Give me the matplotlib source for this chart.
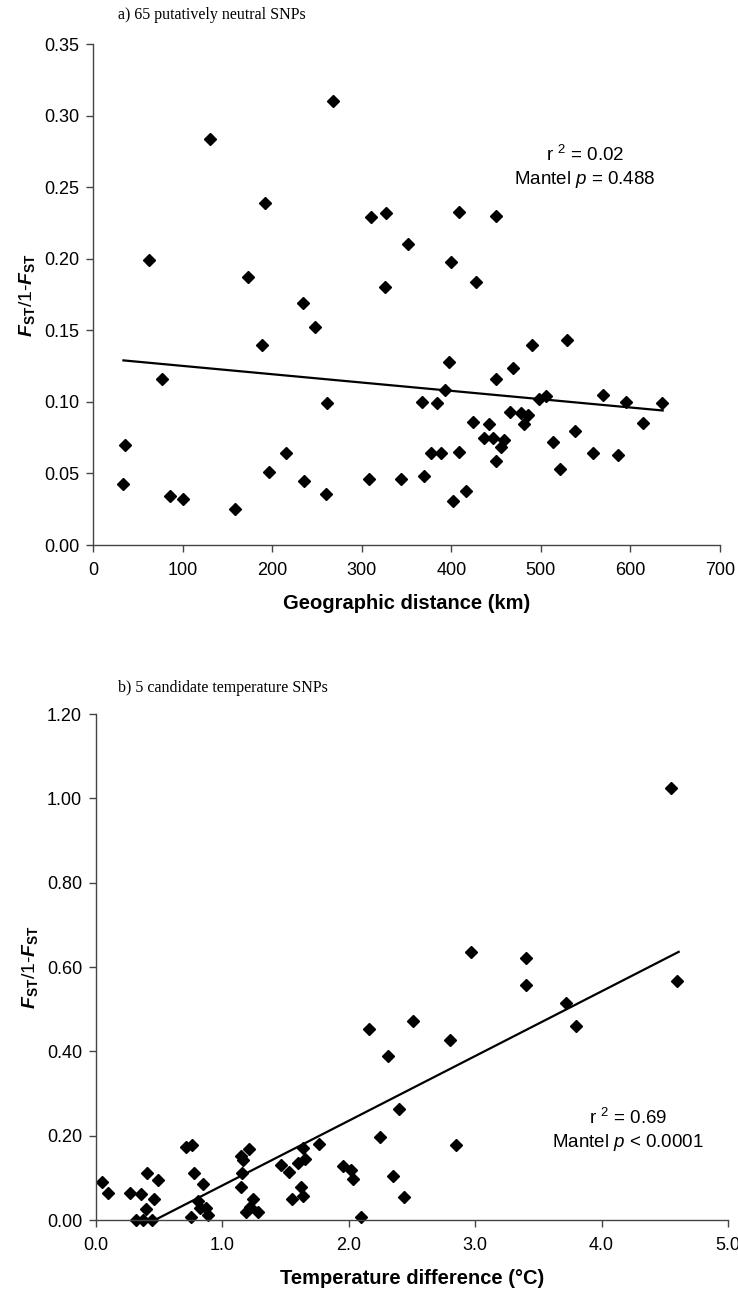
import matplotlib
matplotlib.use("Agg")
import matplotlib.pyplot as plt

plt.rcParams["font.family"] = ["Liberation Sans", "DejaVu Sans"]
plt.rcParams["mathtext.fontset"] = "custom"
plt.rcParams["mathtext.rm"] = "Liberation Sans"
plt.rcParams["mathtext.it"] = "Liberation Sans:italic"
plt.rcParams["mathtext.bf"] = "Liberation Sans:bold"
plt.rcParams["mathtext.bfit"] = "Liberation Sans:bold:italic"

# a) 65 putatively neutral SNPs: geographic distance (km) vs Fst/1-Fst
dist_km = [34, 36, 62, 77.5, 86, 100.6, 131, 158, 172.6, 188.7, 192, 197, 216,
           234, 236, 248.3, 260, 261, 268, 308, 310, 325.5, 327.4, 344, 351.6,
           367.6, 369, 377, 384, 389, 392.6, 398, 400, 402, 408.3, 408.5, 416,
           424.3, 427.3, 436.6, 442.2, 446.6, 449.7, 449.7, 449.7, 456, 459,
           466, 469, 477.3, 481, 485.8, 490.3, 498, 506, 513.8, 521, 528.7,
           538.4, 557.8, 569, 586.5, 595, 613.8, 635]
fst_neutral = [0.043, 0.070, 0.199, 0.116, 0.034, 0.032, 0.284, 0.025, 0.187,
               0.140, 0.239, 0.051, 0.064, 0.169, 0.045, 0.152, 0.036, 0.099,
               0.310, 0.046, 0.229, 0.180, 0.232, 0.046, 0.210, 0.100, 0.048,
               0.064, 0.099, 0.064, 0.108, 0.128, 0.198, 0.031, 0.233, 0.065,
               0.038, 0.086, 0.184, 0.075, 0.0845, 0.0745, 0.116, 0.230, 0.059,
               0.0687, 0.0733, 0.093, 0.124, 0.092, 0.0845, 0.091, 0.140, 0.102,
               0.104, 0.072, 0.053, 0.143, 0.080, 0.064, 0.105, 0.063, 0.0996,
               0.085, 0.099]
trend_a_x = [34, 636]
trend_a_y = [0.129, 0.094]

# b) 5 candidate temperature SNPs: temperature difference vs Fst/1-Fst
temp_diff = [0.045, 0.097, 0.268, 0.316, 0.36, 0.374, 0.395, 0.405, 0.44, 0.458,
             0.492, 0.71, 0.763, 0.75, 0.774, 0.808, 0.847, 0.82, 0.874, 0.887,
             1.15, 1.15, 1.163, 1.158, 1.21, 1.19, 1.216, 1.24, 1.28, 1.466,
             1.53, 1.553, 1.597, 1.637, 1.65, 1.62, 1.637, 1.763, 1.953, 2.018,
             2.03, 2.097, 2.158, 2.308, 2.25, 2.4, 2.347, 2.44, 2.51, 2.80,
             2.85, 2.965, 3.40, 3.40, 3.72, 3.795, 4.55, 4.60]
fst_temp = [0.091, 0.065, 0.065, 0.0, 0.062, 0.0, 0.025, 0.111, 0.0, 0.05,
            0.095, 0.174, 0.177, 0.006, 0.111, 0.044, 0.086, 0.028, 0.028, 0.013,
            0.079, 0.152, 0.143, 0.112, 0.168, 0.02, 0.032, 0.049, 0.018, 0.131,
            0.115, 0.05, 0.136, 0.170, 0.145, 0.079, 0.057, 0.181, 0.128, 0.119,
            0.097, 0.006, 0.454, 0.39, 0.198, 0.263, 0.105, 0.054, 0.471, 0.426,
            0.177, 0.636, 0.621, 0.558, 0.515, 0.461, 1.024, 0.567]
trend_b_x = [0.466, 4.61]
trend_b_y = [0.0, 0.636]

ylab = r"$\mathbfit{F}_{\mathbf{ST}}$/1-$\mathbfit{F}_{\mathbf{ST}}$"

fig = plt.figure(figsize=(7.38, 12.99), dpi=100)
ax1 = fig.add_axes([0.126, 0.5804, 0.8496, 0.3857])
ax2 = fig.add_axes([0.130, 0.0608, 0.8564, 0.3895])


def style(ax):
    for side in ["top", "right"]:
        ax.spines[side].set_visible(False)
    for side in ["left", "bottom"]:
        ax.spines[side].set_color("#444444")
        ax.spines[side].set_linewidth(1.0)
    ax.tick_params(direction="out", length=5, width=1.0, color="#444444",
                   labelsize=13)
    ax.tick_params(axis="x", pad=7)
    ax.tick_params(axis="y", pad=5)


# Panel a
ax1.plot(dist_km, fst_neutral, "D", color="black", ms=6.3, clip_on=False)
ax1.plot(trend_a_x, trend_a_y, color="black", lw=1.6)
ax1.set_xlim(0, 700)
ax1.set_ylim(0, 0.35)
ax1.set_xticks(range(0, 701, 100))
ax1.set_yticks([i * 0.05 for i in range(8)])
ax1.set_yticklabels([f"{i * 0.05:.2f}" for i in range(8)])
style(ax1)
ax1.set_xlabel("Geographic distance (km)", fontsize=14.5, fontweight="bold",
               labelpad=11)
ax1.set_ylabel(ylab, fontsize=14, labelpad=5)
ax1.text(549, 0.264, "r $^2$ = 0.02\nMantel $p$ = 0.488", ha="center",
         va="center", fontsize=13.5, linespacing=1.25)
fig.text(118 / 738, 1 - 15 / 1299, "a) 65 putatively neutral SNPs",
         family="Liberation Serif", fontsize=11.5, va="center")

# Panel b
ax2.plot(temp_diff, fst_temp, "D", color="black", ms=6.3, clip_on=False)
ax2.plot(trend_b_x, trend_b_y, color="black", lw=1.6)
ax2.set_xlim(0, 5)
ax2.set_ylim(0, 1.2)
ax2.set_xticks([0, 1, 2, 3, 4, 5])
ax2.set_xticklabels([f"{v:.1f}" for v in range(6)])
ax2.set_yticks([i * 0.2 for i in range(7)])
ax2.set_yticklabels([f"{i * 0.2:.2f}" for i in range(7)])
style(ax2)
ax2.set_xlabel("Temperature difference (\u00b0C)", fontsize=14.5,
               fontweight="bold", labelpad=11)
ax2.set_ylabel(ylab, fontsize=14, labelpad=5)
ax2.text(4.21, 0.212, "r $^2$ = 0.69\nMantel $p$ < 0.0001", ha="center",
         va="center", fontsize=13.5, linespacing=1.25)
fig.text(118 / 738, 1 - 688 / 1299, "b) 5 candidate temperature SNPs",
         family="Liberation Serif", fontsize=11.5, va="center")

fig.savefig("out.png", dpi=100)
